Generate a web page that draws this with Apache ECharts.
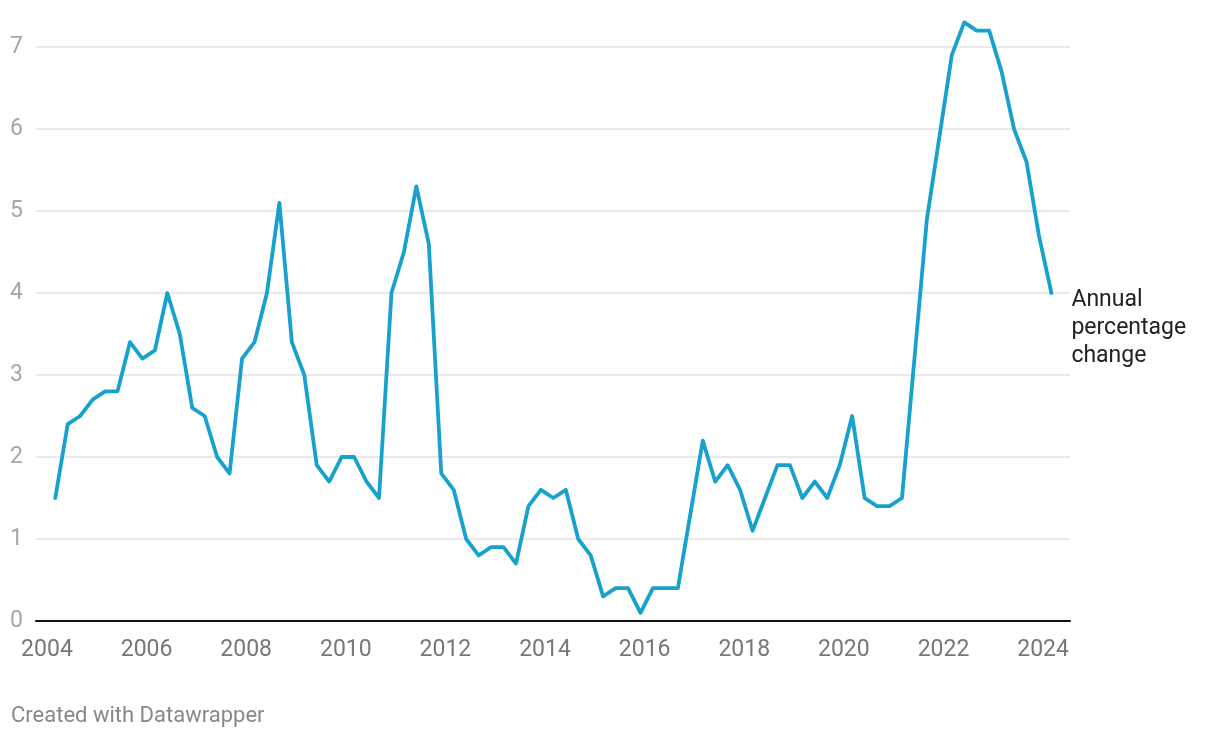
<!DOCTYPE html>
<html>
<head>
<meta charset="utf-8">
<script src="https://cdn.jsdelivr.net/npm/echarts@6/dist/echarts.min.js"></script>
<style>
html,body{margin:0;padding:0;background:#fff;}
#chart{width:1220px;height:738px;}
</style>
</head>
<body>
<div id="chart"></div>
<script>
// Quarterly series, 2004 Q1 to 2024 Q1
const startYear = 2004;
const quarterCount = 81;
const values = [
  1.5, 2.4, 2.5, 2.7, 2.8, 2.8, 3.4, 3.2, 3.3, 4.0,
  3.5, 2.6, 2.5, 2.0, 1.8, 3.2, 3.4, 4.0, 5.1, 3.4,
  3.0, 1.9, 1.7, 2.0, 2.0, 1.7, 1.5, 4.0, 4.5, 5.3,
  4.6, 1.8, 1.6, 1.0, 0.8, 0.9, 0.9, 0.7, 1.4, 1.6,
  1.5, 1.6, 1.0, 0.8, 0.3, 0.4, 0.4, 0.1, 0.4, 0.4,
  0.4, 1.3, 2.2, 1.7, 1.9, 1.6, 1.1, 1.5, 1.9, 1.9,
  1.5, 1.7, 1.5, 1.9, 2.5, 1.5, 1.4, 1.4, 1.5, 3.2,
  4.9, 5.9, 6.9, 7.3, 7.2, 7.2, 6.7, 6.0, 5.6, 4.7,
  4.0
];
const xTickLabels = [2004, 2006, 2008, 2010, 2012, 2014, 2016, 2018, 2020, 2022, 2024];
const yTicks = [0, 1, 2, 3, 4, 5, 6, 7];
const seriesName = 'Annual percentage change';

// quarter dates as decimal years (plotted at the quarter's third month start)
const quarters = [];
for (let i = 0; i < quarterCount; i++) {
  const y = startYear + Math.floor(i / 4);
  const q = i % 4;
  quarters.push(y + q * 0.25 + 2 / 12);
}
const data = quarters.map((x, i) => [x, values[i]]);

const chart = echarts.init(document.getElementById('chart'), null, {renderer: 'canvas'});
chart.setOption({
  animation: false,
  backgroundColor: '#ffffff',
  textStyle: {fontFamily: 'Roboto'},
  grid: {left: 36, right: 150, top: 47, bottom: 117, containLabel: false},
  xAxis: {
    type: 'value',
    min: 2003.78,
    max: 2024.54,
    axisLine: {show: true, onZero: true, lineStyle: {color: '#111', width: 2}},
    axisTick: {show: false},
    splitLine: {show: false},
    axisLabel: {
      customValues: xTickLabels,
      formatter: v => String(v),
      color: '#777',
      fontSize: 23,
      fontFamily: 'Roboto',
      margin: 18
    }
  },
  yAxis: {
    type: 'value',
    min: yTicks[0],
    max: yTicks[yTicks.length - 1],
    interval: 1,
    axisLine: {show: false},
    axisTick: {show: false},
    splitLine: {show: true, lineStyle: {color: '#e3e3e3', width: 1.5}},
    axisLabel: {color: '#a6a6a6', fontSize: 23, fontFamily: 'Roboto', margin: 13}
  },
  series: [{
    name: seriesName,
    type: 'line',
    data: data,
    clip: false,
    symbol: 'none',
    lineStyle: {color: '#18a1cd', width: 3.8, join: 'round', cap: 'round'},
    endLabel: {
      show: true,
      formatter: 'Annual\npercentage\nchange',
      color: '#222',
      fontSize: 23,
      lineHeight: 28,
      fontFamily: 'Roboto',
      align: 'left',
      verticalAlign: 'top',
      distance: 20,
      offset: [0, -7]
    }
  }],
  graphic: [{
    type: 'text',
    left: 11,
    top: 705,
    style: {text: 'Created with Datawrapper', fill: '#888', fontSize: 22, fontFamily: 'Roboto'}
  }]
});
</script>
</body>
</html>
